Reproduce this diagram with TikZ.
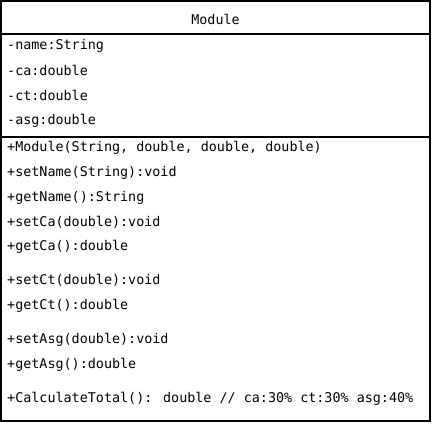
\documentclass[tikz,border=0pt]{standalone}
\usepackage{fontspec}
\setmainfont{DejaVu Sans Mono}
\begin{document}
\begin{tikzpicture}[x=1pt,y=-1pt,
  member/.style={anchor=base west,inner sep=0pt,font=\fontsize{13.4pt}{15pt}\selectfont},
  title/.style={anchor=base,inner sep=0pt,font=\fontsize{13.4pt}{15pt}\selectfont},
  boxline/.style={draw=black,line width=1.2pt}]
\useasboundingbox (0,0) rectangle (433,426);
\draw[boxline] (1,1) rectangle (430,421);
\coordinate (d1l) at (1,34); \coordinate (d1r) at (430,34);
\coordinate (d2l) at (1,137); \coordinate (d2r) at (430,137);
\draw[boxline] (d1l) -- (d1r);
\draw[boxline] (d2l) -- (d2r);
\node[title] (t) at (215.5,24) {Module};
\node[member] (a1) at (7,49) {-name:String};
\node[member] (a2) at (7,75) {-ca:double};
\node[member] (a3) at (7,100) {-ct:double};
\node[member] (a4) at (7,124.5) {-asg:double};
\node[member] (m1) at (7,151.7) {+Module(String, double, double, double)};
\node[member] (m2) at (7,176.7) {+setName(String):void};
\node[member] (m3) at (7,201.7) {+getName():String};
\node[member] (m4) at (7,226.7) {+setCa(double):void};
\node[member] (m5) at (7,250.7) {+getCa():double};
\node[member] (m6) at (7,284.3) {+setCt(double):void};
\node[member] (m7) at (7,309.3) {+getCt():double};
\node[member] (m8) at (7,343.3) {+setAsg(double):void};
\node[member] (m9) at (7,368.3) {+getAsg():double};
\node[member] (m10) at (7,402.3) {+CalculateTotal(): double // ca:30\% ct:30\% asg:40\%};
\end{tikzpicture}
\end{document}
